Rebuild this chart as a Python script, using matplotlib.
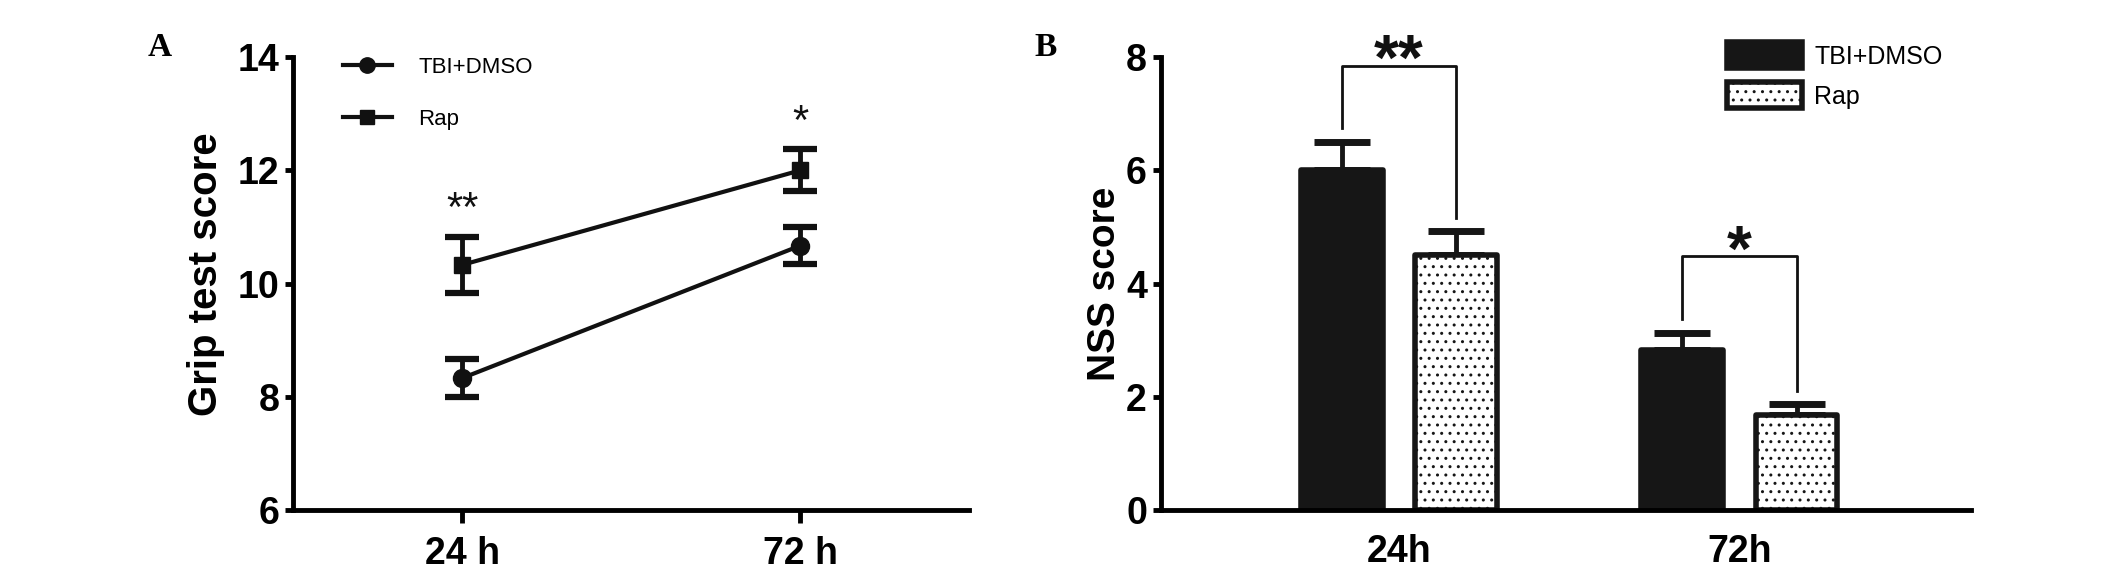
import matplotlib
matplotlib.use('Agg')
import matplotlib.pyplot as plt
import numpy as np

# panel A - grip test
times = ['24 h', '72 h']
grip_dmso = [8.33, 10.67]
grip_dmso_err = [0.33, 0.33]
grip_rap = [10.33, 12.0]
grip_rap_err = [0.5, 0.37]
grip_stars = ['**', '*']

# panel B - NSS score
times_b = ['24h', '72h']
nss_dmso = [6.0, 2.83]
nss_dmso_err = [0.5, 0.3]
nss_rap = [4.5, 1.67]
nss_rap_err = [0.42, 0.2]
nss_stars = ['**', '*']

tick_font = ['Liberation Sans', 'DejaVu Sans']
label_font = ['Liberation Sans', 'DejaVu Sans']
plt.rcParams['hatch.linewidth'] = 1.0

fig = plt.figure(figsize=(21.26, 5.71), dpi=100)
axA = fig.add_axes([0.138, 0.107, 0.318, 0.793])
axB = fig.add_axes([0.546, 0.107, 0.381, 0.793])


def style_axis(ax):
    for s in ['top', 'right']:
        ax.spines[s].set_visible(False)
    for s in ['left', 'bottom']:
        ax.spines[s].set_linewidth(3.5)
    ax.tick_params(axis='y', length=6, width=3.5, pad=4)
    for lab in ax.get_yticklabels() + ax.get_xticklabels():
        lab.set_family(tick_font)
        lab.set_fontweight('bold')
        lab.set_fontsize(27)


# ---- A ----
x = np.arange(1, len(times) + 1)
axA.errorbar(x, grip_dmso, yerr=grip_dmso_err, fmt='none', ecolor='#111111',
             elinewidth=3.5, capsize=12, capthick=4.5)
axA.errorbar(x, grip_rap, yerr=grip_rap_err, fmt='none', ecolor='#111111',
             elinewidth=3.5, capsize=12, capthick=4.5)
axA.plot(x, grip_dmso, color='#111111', marker='o', markersize=13, linewidth=3, label='TBI+DMSO')
axA.plot(x, grip_rap, color='#111111', marker='s', markersize=12, linewidth=3, label='Rap')
for xi, v, e, st in zip(x, grip_rap, grip_rap_err, grip_stars):
    axA.text(xi, v + e + 0.12, st, ha='center', va='bottom', fontsize=30,
             family=label_font, color='#111111')
axA.set_xlim(0.5, 2.5)
axA.set_ylim(6, 14)
axA.set_yticks([6, 8, 10, 12, 14])
axA.set_xticks(x)
axA.set_xticklabels(times)
axA.set_ylabel('Grip test score', fontsize=29, fontweight='bold', family=label_font,
               labelpad=9, y=0.52)
style_axis(axA)
axA.tick_params(axis='x', length=9, width=3.5, pad=10)
axA.legend(loc='upper left', bbox_to_anchor=(0.057, 1.025), frameon=False,
           handlelength=2.2, labelspacing=1.4, handletextpad=1.2, markerscale=0.85,
           borderpad=0, prop={'family': label_font, 'size': 16})

# ---- B ----
w = 0.24
off = 0.168
xb = np.arange(1, len(times_b) + 1)
axB.bar(xb - off, nss_dmso, w, color='#161616', edgecolor='#161616', linewidth=4,
        joinstyle='round', label='TBI+DMSO', zorder=2)
axB.bar(xb + off, nss_rap, w, color='white', edgecolor='#161616', linewidth=4,
        hatch='..', joinstyle='round', label='Rap', zorder=2)
axB.errorbar(xb - off, nss_dmso, yerr=[np.zeros(len(nss_dmso)), nss_dmso_err], fmt='none',
             ecolor='#161616', elinewidth=3.5, capsize=20, capthick=5, zorder=1)
axB.errorbar(xb + off, nss_rap, yerr=[np.zeros(len(nss_rap)), nss_rap_err], fmt='none',
             ecolor='#161616', elinewidth=3.5, capsize=20, capthick=5, zorder=1)

# significance brackets
for xi, a, ea, b, eb, st in zip(xb, nss_dmso, nss_dmso_err, nss_rap, nss_rap_err, nss_stars):
    top = max(a + ea, b + eb) + 1.35
    axB.plot([xi - off, xi - off, xi + off, xi + off],
             [a + ea + 0.25, top, top, b + eb + 0.23], color='#111111', linewidth=2)
    axB.text(xi, top + 0.05, st, ha='center', va='center', fontsize=46,
             family=label_font, fontweight='bold', color='#111111')

axB.set_xlim(0.3, 2.68)
axB.set_ylim(0, 8)
axB.set_yticks([0, 2, 4, 6, 8])
axB.set_xticks(xb)
axB.set_xticklabels(times_b)
axB.set_ylabel('NSS score', fontsize=28, fontweight='bold', family=label_font, labelpad=2)
style_axis(axB)
axB.tick_params(axis='x', length=0, pad=17)
axB.legend(loc='upper left', bbox_to_anchor=(0.683, 1.06), frameon=False,
           handlelength=3.0, handleheight=1.2, labelspacing=0.55, handletextpad=0.5,
           borderpad=0, prop={'family': label_font, 'size': 18})

fig.text(160 / 2126, 1 - 47 / 571, 'A', fontsize=24, fontweight='bold',
         family=['Liberation Serif', 'DejaVu Serif'], ha='center', va='center')
fig.text(1046 / 2126, 1 - 47 / 571, 'B', fontsize=24, fontweight='bold',
         family=['Liberation Serif', 'DejaVu Serif'], ha='center', va='center')

fig.savefig('out.png', dpi=100)
